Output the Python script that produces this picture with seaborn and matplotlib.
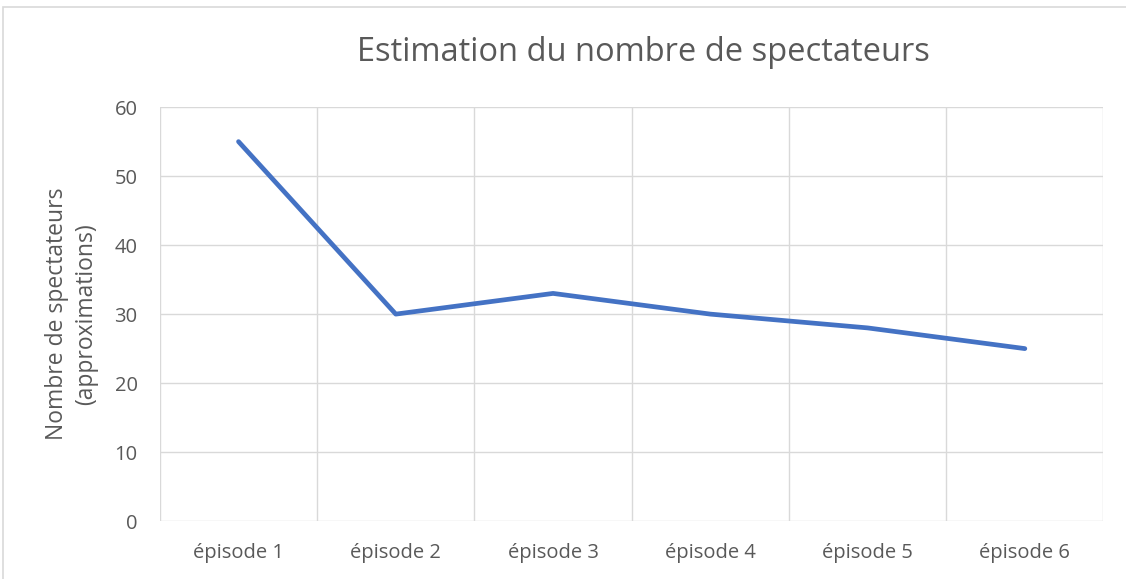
import matplotlib
matplotlib.use('Agg')
import matplotlib.pyplot as plt
import seaborn as sns
import pandas as pd
from matplotlib.patches import Rectangle

# Chart data
episodes = ['épisode 1', 'épisode 2', 'épisode 3', 'épisode 4', 'épisode 5', 'épisode 6']
spectateurs = [55, 30, 33, 30, 28, 25]
y_ticks = [0, 10, 20, 30, 40, 50, 60]

df = pd.DataFrame({'episode': episodes, 'spectateurs': spectateurs})

sns.set_style('white')
plt.rcParams['font.family'] = ['Open Sans', 'DejaVu Sans']

text_col = '#595959'
grid_col = '#D9D9D9'

fig = plt.figure(figsize=(11.26, 5.79), dpi=100)
ax = fig.add_axes([0.142, 0.100, 0.838, 0.715])

sns.lineplot(data=df, x='episode', y='spectateurs', ax=ax,
             color='#4472C4', linewidth=3.4, solid_capstyle='round',
             solid_joinstyle='round', sort=False)

# Excel-like layout: gridlines between categories
ax.set_xlim(-0.5, len(episodes) - 0.5)
ax.set_ylim(y_ticks[0], y_ticks[-1])
ax.set_yticks(y_ticks)
ax.set_xticks(range(len(episodes)))
ax.set_xticklabels(episodes)
for b in [i - 0.5 for i in range(len(episodes) + 1)]:
    ax.axvline(b, color=grid_col, linewidth=1.0, zorder=0)
for t in y_ticks:
    ax.axhline(t, color=grid_col, linewidth=1.0, zorder=0)

for s in ax.spines.values():
    s.set_visible(False)
ax.tick_params(axis='both', length=0, colors=text_col, labelsize=14.5)
ax.tick_params(axis='x', pad=16)
ax.tick_params(axis='y', pad=16)

ax.set_xlabel('')
ax.set_ylabel('Nombre de spectateurs\n(approximations)', color=text_col,
              fontsize=16.5, labelpad=12, linespacing=1.25)

fig.text(0.571, 0.91, 'Estimation du nombre de spectateurs', ha='center',
         va='center', color=text_col, fontsize=23.5)

# chart frame
fig.patches.append(Rectangle((0.003, -0.05), 1.1, 1.038, transform=fig.transFigure,
                             fill=False, edgecolor=grid_col, linewidth=1.2))

fig.savefig('out.png', dpi=100, facecolor='white')
